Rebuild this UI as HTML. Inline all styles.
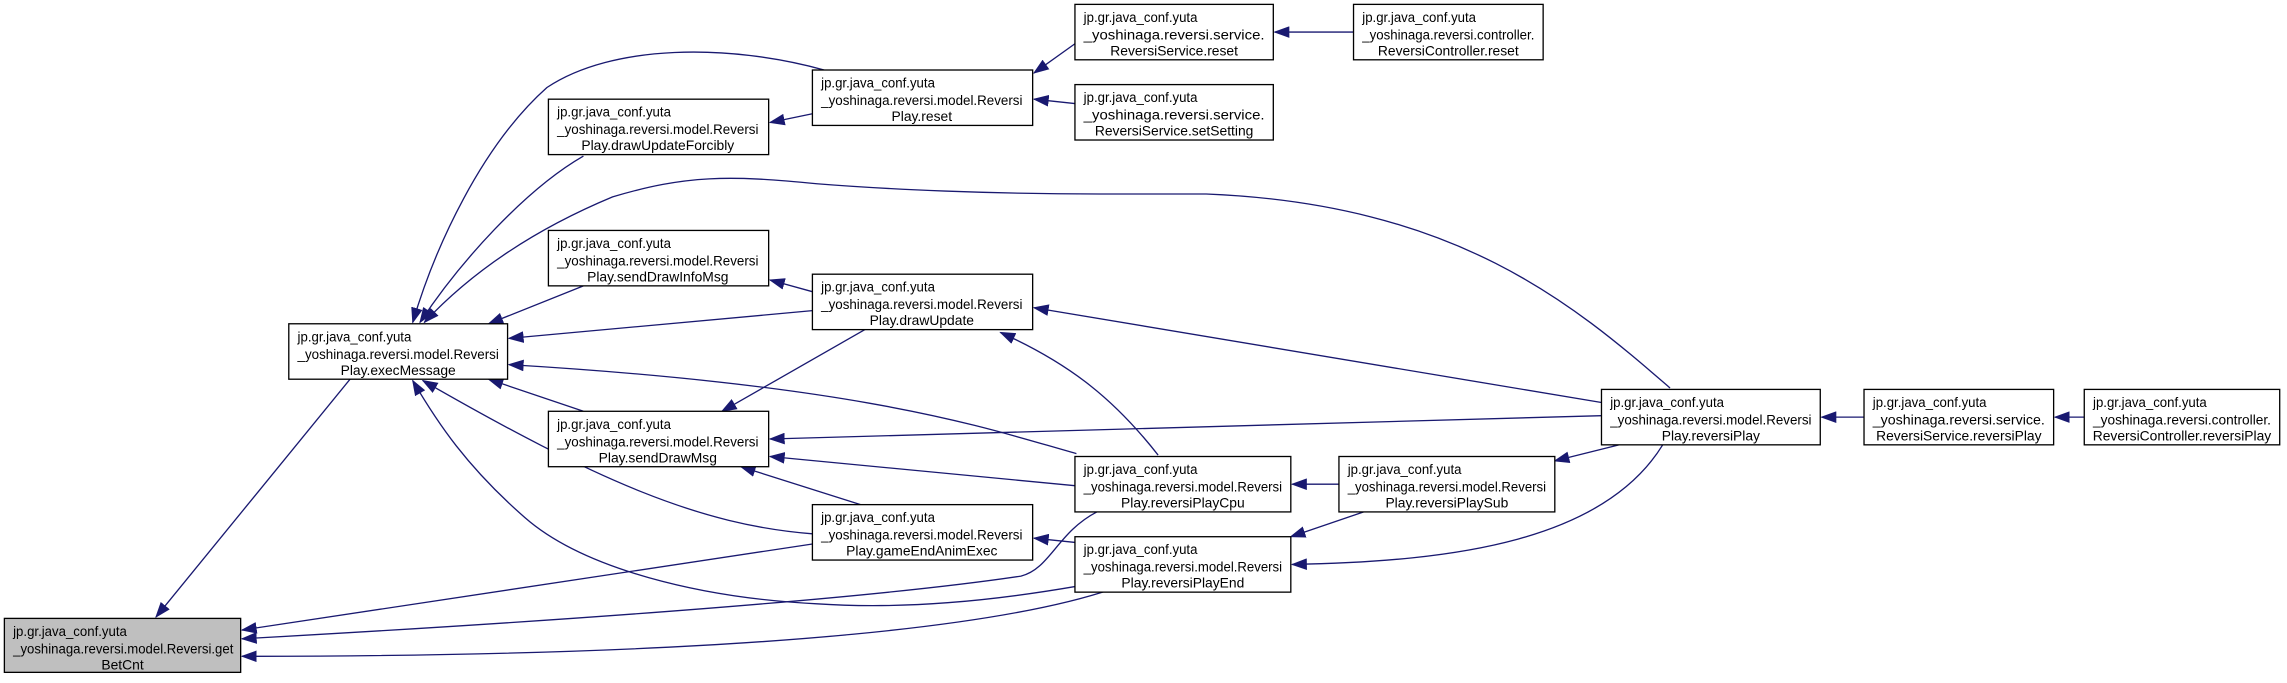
<!DOCTYPE html>
<html><head><meta charset="utf-8"><style>html,body{margin:0;padding:0;background:#fff}svg{display:block}</style></head>
<body>
<svg width="2287" height="683" viewBox="0 0 1568 468.3" preserveAspectRatio="none" xmlns="http://www.w3.org/2000/svg" font-family="Liberation Sans, sans-serif" font-size="9.5">
<defs><marker id="a" markerWidth="11" markerHeight="8" refX="10" refY="4" orient="auto" markerUnits="userSpaceOnUse"><path d="M0,0 L11,4 L0,8 z" fill="#191970"/></marker></defs>
<g fill="none" stroke="#191970" stroke-width="0.9" marker-end="url(#a)">
<path d="M240,260 L107,423"/>
<path d="M557,373 L166,432"/>
<path d="M752,351 C725,365 720,390 700,395 C600,410 400,425 166,438"/>
<path d="M762,404 C700,425 550,450 166,450"/>
<path d="M400,107 C360,130 315,180 288,221"/>
<path d="M565,48 C500,30 420,30 375,60 C330,100 298,170 283,221"/>
<path d="M1145,266 C1080,210 1000,140 827,133 L754,133 C680,133 610,130 560,126 C500,120 470,120 420,135 C360,160 320,190 291,221"/>
<path d="M400,196 L335,222"/>
<path d="M557,213 L349,232"/>
<path d="M400,282 L335,260"/>
<path d="M738,311 C680,295 600,265 349,250"/>
<path d="M557,366 C480,360 410,330 290,261"/>
<path d="M738,402 C680,412 620,418 560,414 C480,410 400,390 360,355 C320,320 300,290 283,261"/>
<path d="M557,78 L528,84"/>
<path d="M737,30 L709,50"/>
<path d="M737,71 L709,68"/>
<path d="M928,22 L874,22"/>
<path d="M557,200 L528,192"/>
<path d="M593,226 L495,282"/>
<path d="M1098,276 L709,211"/>
<path d="M794,312 C765,275 735,250 686,228"/>
<path d="M1098,285 L528,301"/>
<path d="M737,333 L528,313"/>
<path d="M590,346 L508,320"/>
<path d="M918,332 L886,332"/>
<path d="M935,351 L885,368"/>
<path d="M738,372 L709,369"/>
<path d="M1110,305 L1066,316"/>
<path d="M1140,305 C1100,370 1000,385 886,387"/>
<path d="M1278,286 L1249,286"/>
<path d="M1429,286 L1409,286"/>
</g>
<g stroke="#000" stroke-width="0.9">
<rect x="3" y="424" width="162" height="37" fill="#bfbfbf"/>
<rect x="198" y="222" width="150" height="38" fill="#fff"/>
<rect x="376" y="68" width="151" height="38" fill="#fff"/>
<rect x="557" y="48" width="151" height="38" fill="#fff"/>
<rect x="376" y="158" width="151" height="38" fill="#fff"/>
<rect x="557" y="188" width="151" height="38" fill="#fff"/>
<rect x="376" y="282" width="151" height="38" fill="#fff"/>
<rect x="557" y="346" width="151" height="38" fill="#fff"/>
<rect x="737" y="313" width="148" height="38" fill="#fff"/>
<rect x="737" y="368" width="148" height="38" fill="#fff"/>
<rect x="918" y="313" width="148" height="38" fill="#fff"/>
<rect x="737" y="3" width="136" height="38" fill="#fff"/>
<rect x="737" y="58" width="136" height="38" fill="#fff"/>
<rect x="928" y="3" width="130" height="38" fill="#fff"/>
<rect x="1098" y="267" width="150" height="38" fill="#fff"/>
<rect x="1278" y="267" width="130" height="38" fill="#fff"/>
<rect x="1429" y="267" width="134" height="38" fill="#fff"/>
</g>
<g fill="#000">
<text x="9" y="436" textLength="78" lengthAdjust="spacingAndGlyphs">jp.gr.java_conf.yuta</text>
<text x="9" y="448" textLength="151" lengthAdjust="spacingAndGlyphs">_yoshinaga.reversi.model.Reversi.get</text>
<text x="84" y="459" text-anchor="middle">BetCnt</text>
<text x="204" y="234" textLength="78" lengthAdjust="spacingAndGlyphs">jp.gr.java_conf.yuta</text>
<text x="204" y="246" textLength="138" lengthAdjust="spacingAndGlyphs">_yoshinaga.reversi.model.Reversi</text>
<text x="273" y="257" text-anchor="middle">Play.execMessage</text>
<text x="382" y="80" textLength="78" lengthAdjust="spacingAndGlyphs">jp.gr.java_conf.yuta</text>
<text x="382" y="92" textLength="138" lengthAdjust="spacingAndGlyphs">_yoshinaga.reversi.model.Reversi</text>
<text x="451" y="103" text-anchor="middle">Play.drawUpdateForcibly</text>
<text x="563" y="60" textLength="78" lengthAdjust="spacingAndGlyphs">jp.gr.java_conf.yuta</text>
<text x="563" y="72" textLength="138" lengthAdjust="spacingAndGlyphs">_yoshinaga.reversi.model.Reversi</text>
<text x="632" y="83" text-anchor="middle">Play.reset</text>
<text x="382" y="170" textLength="78" lengthAdjust="spacingAndGlyphs">jp.gr.java_conf.yuta</text>
<text x="382" y="182" textLength="138" lengthAdjust="spacingAndGlyphs">_yoshinaga.reversi.model.Reversi</text>
<text x="451" y="193" text-anchor="middle">Play.sendDrawInfoMsg</text>
<text x="563" y="200" textLength="78" lengthAdjust="spacingAndGlyphs">jp.gr.java_conf.yuta</text>
<text x="563" y="212" textLength="138" lengthAdjust="spacingAndGlyphs">_yoshinaga.reversi.model.Reversi</text>
<text x="632" y="223" text-anchor="middle">Play.drawUpdate</text>
<text x="382" y="294" textLength="78" lengthAdjust="spacingAndGlyphs">jp.gr.java_conf.yuta</text>
<text x="382" y="306" textLength="138" lengthAdjust="spacingAndGlyphs">_yoshinaga.reversi.model.Reversi</text>
<text x="451" y="317" text-anchor="middle">Play.sendDrawMsg</text>
<text x="563" y="358" textLength="78" lengthAdjust="spacingAndGlyphs">jp.gr.java_conf.yuta</text>
<text x="563" y="370" textLength="138" lengthAdjust="spacingAndGlyphs">_yoshinaga.reversi.model.Reversi</text>
<text x="632" y="381" text-anchor="middle">Play.gameEndAnimExec</text>
<text x="743" y="325" textLength="78" lengthAdjust="spacingAndGlyphs">jp.gr.java_conf.yuta</text>
<text x="743" y="337" textLength="136" lengthAdjust="spacingAndGlyphs">_yoshinaga.reversi.model.Reversi</text>
<text x="811" y="348" text-anchor="middle">Play.reversiPlayCpu</text>
<text x="743" y="380" textLength="78" lengthAdjust="spacingAndGlyphs">jp.gr.java_conf.yuta</text>
<text x="743" y="392" textLength="136" lengthAdjust="spacingAndGlyphs">_yoshinaga.reversi.model.Reversi</text>
<text x="811" y="403" text-anchor="middle">Play.reversiPlayEnd</text>
<text x="924" y="325" textLength="78" lengthAdjust="spacingAndGlyphs">jp.gr.java_conf.yuta</text>
<text x="924" y="337" textLength="136" lengthAdjust="spacingAndGlyphs">_yoshinaga.reversi.model.Reversi</text>
<text x="992" y="348" text-anchor="middle">Play.reversiPlaySub</text>
<text x="743" y="15" textLength="78" lengthAdjust="spacingAndGlyphs">jp.gr.java_conf.yuta</text>
<text x="743" y="27" textLength="124" lengthAdjust="spacingAndGlyphs">_yoshinaga.reversi.service.</text>
<text x="805" y="38" text-anchor="middle">ReversiService.reset</text>
<text x="743" y="70" textLength="78" lengthAdjust="spacingAndGlyphs">jp.gr.java_conf.yuta</text>
<text x="743" y="82" textLength="124" lengthAdjust="spacingAndGlyphs">_yoshinaga.reversi.service.</text>
<text x="805" y="93" text-anchor="middle">ReversiService.setSetting</text>
<text x="934" y="15" textLength="78" lengthAdjust="spacingAndGlyphs">jp.gr.java_conf.yuta</text>
<text x="934" y="27" textLength="118" lengthAdjust="spacingAndGlyphs">_yoshinaga.reversi.controller.</text>
<text x="993" y="38" text-anchor="middle">ReversiController.reset</text>
<text x="1104" y="279" textLength="78" lengthAdjust="spacingAndGlyphs">jp.gr.java_conf.yuta</text>
<text x="1104" y="291" textLength="138" lengthAdjust="spacingAndGlyphs">_yoshinaga.reversi.model.Reversi</text>
<text x="1173" y="302" text-anchor="middle">Play.reversiPlay</text>
<text x="1284" y="279" textLength="78" lengthAdjust="spacingAndGlyphs">jp.gr.java_conf.yuta</text>
<text x="1284" y="291" textLength="118" lengthAdjust="spacingAndGlyphs">_yoshinaga.reversi.service.</text>
<text x="1343" y="302" text-anchor="middle">ReversiService.reversiPlay</text>
<text x="1435" y="279" textLength="78" lengthAdjust="spacingAndGlyphs">jp.gr.java_conf.yuta</text>
<text x="1435" y="291" textLength="122" lengthAdjust="spacingAndGlyphs">_yoshinaga.reversi.controller.</text>
<text x="1496" y="302" text-anchor="middle">ReversiController.reversiPlay</text>
</g>
</svg>
</body></html>
